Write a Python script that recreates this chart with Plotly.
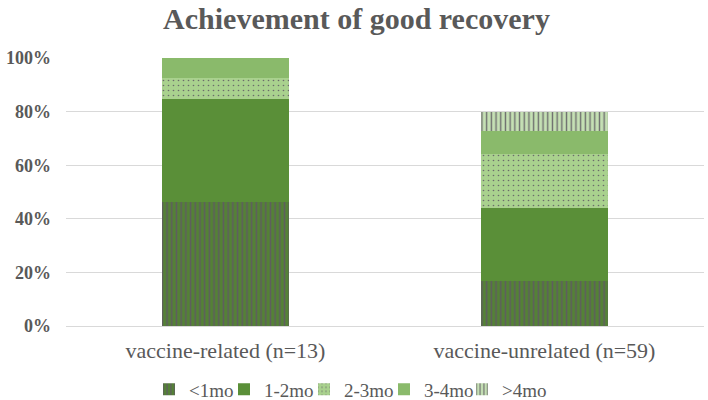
import plotly.graph_objects as go

categories = ["vaccine-related (n=13)", "vaccine-unrelated (n=59)"]
series_names = ["<1mo", "1-2mo", "2-3mo", "3-4mo", ">4mo"]
v_lt1 = [46.2, 16.9]
v_1_2 = [38.5, 27.1]
v_2_3 = [7.7, 20.3]
v_3_4 = [7.6, 8.5]
v_gt4 = [0.0, 6.9]
y_ticks = [0, 20, 40, 60, 80, 100]

values = [v_lt1, v_1_2, v_2_3, v_3_4, v_gt4]
styles = [
    dict(color="#548235", pattern=dict(shape="|", fgcolor="#5e5e5e", bgcolor="#548235", size=4.7, solidity=0.35, fillmode="replace")),
    dict(color="#5a8f38"),
    dict(color="#a9d18e", pattern=dict(shape=".", fgcolor="#6b6b6b", bgcolor="#a9d18e", size=5, solidity=0.08, fillmode="replace")),
    dict(color="#8aba6b"),
    dict(color="#c5e0b4", pattern=dict(shape="|", fgcolor="#6e6e6e", bgcolor="#c5e0b4", size=4.7, solidity=0.3, fillmode="replace")),
]
# left edge (px) of each legend entry
legend_px = [149, 224, 304, 384, 462]

fig = go.Figure()
legend_layout = {}
for i, (name, vals, st) in enumerate(zip(series_names, values, styles)):
    key = "legend" if i == 0 else f"legend{i + 1}"
    fig.add_trace(go.Bar(
        x=categories, y=[v / 100 for v in vals], name=name, legend=key, showlegend=True,
        marker=dict(line=dict(width=0), **st),
    ))
    legend_layout[key] = dict(
        orientation="h", xref="container", yref="container",
        x=legend_px[i] / 708, xanchor="left", y=1 - 389.5 / 400, yanchor="middle",
        font=dict(size=19, color="#595959", family="Liberation Serif"),
        itemwidth=30, bgcolor="rgba(0,0,0,0)",
    )

fig.update_layout(
    showlegend=True,
    barmode="stack",
    bargap=0.6,
    width=708, height=400,
    margin=dict(l=66, r=4, t=58, b=73.5, autoexpand=False),
    paper_bgcolor="white", plot_bgcolor="white",
    font=dict(family="Liberation Serif", color="#595959"),
    title=dict(text="<b>Achievement of good recovery</b>", x=0.5035, xref="container", xanchor="center",
               y=1 - 18 / 400, yref="container", yanchor="middle", font=dict(size=30, color="#595959")),
    xaxis=dict(showline=True, linecolor="#d9d9d9", linewidth=1, ticks="",
               tickfont=dict(size=22, color="#595959"), ticklabelstandoff=5),
    yaxis=dict(range=[0, 1.0], tickvals=[t / 100 for t in y_ticks],
               ticktext=[f"<b>{t}%</b>" for t in y_ticks],
               showgrid=True, gridcolor="#d9d9d9", zeroline=False,
               tickfont=dict(size=18, color="#595959"), ticklabelstandoff=14),
    **legend_layout,
)

fig.write_html("out.html", config={"displayModeBar": False},
               post_script="document.body.style.margin='0';")
